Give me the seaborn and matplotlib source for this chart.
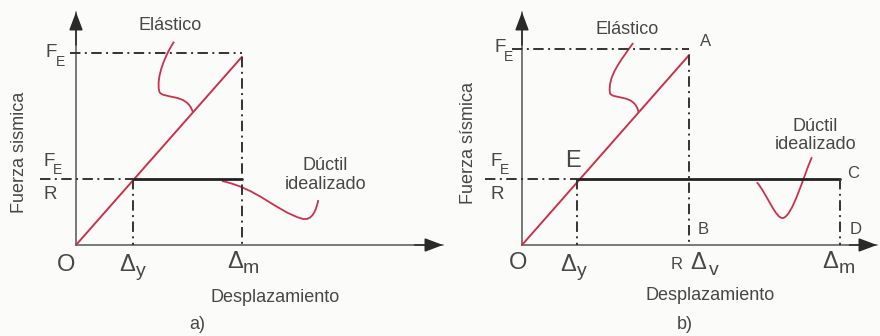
import matplotlib
matplotlib.use("Agg")
import matplotlib.pyplot as plt
import seaborn as sns
import pandas as pd
from matplotlib.path import Path
from matplotlib.patches import PathPatch

# ---- panel a) values (displacement in units of Δy, force in units of F_E/R)
a_delta_y = 1.0
a_delta_m = 2.91
a_fe = 2.91
a_fe_r = 1.0
a_elastic_top = 2.85

# ---- panel b) values
b_delta_y = 1.0
b_r_delta_v = 3.04
b_delta_m = 5.78
b_fe = 2.97
b_fe_r = 1.0
b_elastic_top = 2.88

# hand-drawn leader curves (cubic Bezier vertices)
a_elastic_leader = [(1.72, 3.08), (1.58, 2.90), (1.40, 2.55), (1.46, 2.33),
                    (1.50, 2.20), (1.95, 2.32), (2.05, 2.01)]
a_ductile_leader = [(2.56, 0.97), (3.20, 0.85), (3.50, 0.52), (3.96, 0.40),
                    (4.15, 0.35), (4.22, 0.55), (4.25, 0.68)]
b_elastic_leader = [(2.02, 3.06), (1.80, 2.80), (1.55, 2.55), (1.60, 2.30),
                    (1.65, 2.20), (2.05, 2.30), (2.12, 2.01)]
b_ductile_leader = [(4.27, 0.95), (4.45, 0.78), (4.62, 0.38), (4.75, 0.41),
                    (4.92, 0.45), (5.10, 1.00), (5.27, 1.33)]

sns.set_theme(style="white")
plt.rcParams["font.family"] = ["Liberation Sans", "DejaVu Sans"]
plt.rcParams["lines.scale_dashes"] = False

RED = "#c8324c"
INK = "#333333"
AXIS = "#4f5a55"
TXT = "#474747"
DASHDOT = (0, (7.5, 3.2, 1.4, 3.2))

fig = plt.figure(figsize=(8.8, 3.36), dpi=100, facecolor="#fbfbf9")


def make_axes(left_px, x_scale, origin_x, origin_y=245, y_scale=66):
    ax = fig.add_axes([left_px / 880, 0, 440 / 880, 1])
    ax.set_xlim((left_px - origin_x) / x_scale, (left_px + 440 - origin_x) / x_scale)
    ax.set_ylim((origin_y - 336) / y_scale, origin_y / y_scale)
    ax.axis("off")
    ax.patch.set_alpha(0)
    return ax


def arrows(ax, x_tip, y_tip):
    # axis lines, then solid dark heads at their tips
    ax.plot([0, x_tip], [0, 0], color=AXIS, lw=1.1, clip_on=False)
    ax.plot([0, 0], [0, y_tip], color="#555555", lw=1.1, clip_on=False)
    style = "-|>,head_length=0.8,head_width=0.3"
    for tip, tail in [((x_tip, 0), (x_tip - 0.5, 0)), ((0, y_tip), (0, y_tip - 0.5))]:
        ax.annotate("", xy=tip, xytext=tail, annotation_clip=False,
                    arrowprops=dict(arrowstyle=style, color="#2a2a2a", lw=1.1,
                                    mutation_scale=14, shrinkA=0, shrinkB=0))


def leader(ax, pts):
    codes = [Path.MOVETO] + [Path.CURVE4] * (len(pts) - 1)
    ax.add_patch(PathPatch(Path(pts, codes), fill=False, edgecolor=RED, lw=1.3))


def dashdot(ax, xs, ys):
    ax.plot(xs, ys, color=INK, lw=1.4, linestyle=DASHDOT)


def symbol(ax, x, y, main, sub, dx, dy, size=17, subsize=14):
    ax.text(x, y, main, fontsize=size, color=TXT, ha="center", va="center")
    ax.text(x + dx, y + dy, sub, fontsize=subsize, color=TXT, ha="center", va="center")


def force_labels(ax, fe_x, fe_y, fr_x):
    # F_E at the upper level
    symbol(ax, fe_x, fe_y, "F", "E", 0.16, -0.14, size=13.5, subsize=10)
    # F_E / R at the yield level
    symbol(ax, fr_x, 1.27, "F", "E", 0.15, -0.14, size=13.5, subsize=10)
    ax.text(fr_x + 0.02, 0.76, "R", fontsize=13.5, color=TXT, ha="center", va="center")


# ================= panel a) =================
ax1 = make_axes(0, 57, 76)
arrows(ax1, 367 / 57, 233 / 66)

elastic_a = pd.DataFrame({"d": [0, a_delta_m], "f": [0, a_elastic_top]})
ductile_a = pd.DataFrame({"d": [a_delta_y, a_delta_m], "f": [a_fe_r, a_fe_r]})
sns.lineplot(data=elastic_a, x="d", y="f", ax=ax1, color=RED, lw=1.4, sort=False)
sns.lineplot(data=ductile_a, x="d", y="f", ax=ax1, color="#222222", lw=2.0, sort=False)

dashdot(ax1, [-0.105, a_delta_m], [a_fe, a_fe])
dashdot(ax1, [a_delta_m, a_delta_m], [a_elastic_top, 0])
dashdot(ax1, [-0.63, a_delta_y], [a_fe_r, a_fe_r])
dashdot(ax1, [a_delta_y, a_delta_y], [a_fe_r, 0])

leader(ax1, a_elastic_leader)
leader(ax1, a_ductile_leader)

force_labels(ax1, -0.44, 2.92, -0.47)
ax1.text(-0.18, -0.30, "O", fontsize=17, color=TXT, ha="center", va="center")
symbol(ax1, a_delta_y - 0.1, -0.30, "Δ", "y", 0.24, -0.10)
symbol(ax1, a_delta_m - 0.12, -0.26, "Δ", "m", 0.27, -0.10)
ax1.text(1.65, 3.33, "Elástico", fontsize=13, color=TXT, ha="center", va="center")
ax1.text(4.37, 1.21, "Dúctil", fontsize=13, color=TXT, ha="center", va="center")
ax1.text(4.37, 0.92, "idealizado", fontsize=13, color=TXT, ha="center", va="center")
ax1.text(3.49, -0.79, "Desplazamiento", fontsize=13, color=TXT, ha="center", va="center")
ax1.text(2.12, -1.21, "a)", fontsize=13, color=TXT, ha="center", va="center")
ax1.text(-1.0, 1.40, "Fuerza sismica", fontsize=13, color=TXT, ha="center",
         va="center", rotation=90)

# ================= panel b) =================
ax2 = make_axes(440, 55, 522)
arrows(ax2, 355 / 55, 233 / 66)

elastic_b = pd.DataFrame({"d": [0, b_r_delta_v], "f": [0, b_elastic_top]})
ductile_b = pd.DataFrame({"d": [b_delta_y, b_delta_m], "f": [b_fe_r, b_fe_r]})
sns.lineplot(data=elastic_b, x="d", y="f", ax=ax2, color=RED, lw=1.4, sort=False)
sns.lineplot(data=ductile_b, x="d", y="f", ax=ax2, color="#222222", lw=2.0, sort=False)

dashdot(ax2, [-0.18, b_r_delta_v], [b_fe, b_fe])
dashdot(ax2, [b_r_delta_v, b_r_delta_v], [b_elastic_top, 0])
dashdot(ax2, [-0.67, b_delta_y], [b_fe_r, b_fe_r])
dashdot(ax2, [b_delta_y, b_delta_y], [b_fe_r, 0])
dashdot(ax2, [b_delta_m, b_delta_m], [b_fe_r, 0])

leader(ax2, b_elastic_leader)
leader(ax2, b_ductile_leader)

force_labels(ax2, -0.40, 2.99, -0.47)
ax2.text(0.93, 1.27, "E", fontsize=17, color=TXT, ha="center", va="center")
ax2.text(3.33, 3.08, "A", fontsize=12, color=TXT, ha="center", va="center")
ax2.text(3.29, 0.23, "B", fontsize=12, color=TXT, ha="center", va="center")
ax2.text(6.02, 1.08, "C", fontsize=12, color=TXT, ha="center", va="center")
ax2.text(6.06, 0.23, "D", fontsize=12, color=TXT, ha="center", va="center")
ax2.text(-0.07, -0.27, "O", fontsize=17, color=TXT, ha="center", va="center")
symbol(ax2, b_delta_y - 0.16, -0.30, "Δ", "y", 0.25, -0.10)
ax2.text(b_r_delta_v - 0.22, -0.30, "R", fontsize=12, color=TXT, ha="center", va="center")
symbol(ax2, b_r_delta_v + 0.16, -0.27, "Δ", "v", 0.28, -0.11)
symbol(ax2, b_delta_m - 0.18, -0.26, "Δ", "m", 0.3, -0.10)
ax2.text(1.91, 3.26, "Elástico", fontsize=13, color=TXT, ha="center", va="center")
ax2.text(5.33, 1.79, "Dúctil", fontsize=13, color=TXT, ha="center", va="center")
ax2.text(5.33, 1.53, "idealizado", fontsize=13, color=TXT, ha="center", va="center")
ax2.text(3.42, -0.76, "Desplazamiento", fontsize=13, color=TXT, ha="center", va="center")
ax2.text(2.96, -1.21, "b)", fontsize=13, color=TXT, ha="center", va="center")
ax2.text(-0.98, 1.55, "Fuerza sísmica", fontsize=13, color=TXT, ha="center",
         va="center", rotation=90)

fig.savefig("out.png", dpi=100, facecolor=fig.get_facecolor())
